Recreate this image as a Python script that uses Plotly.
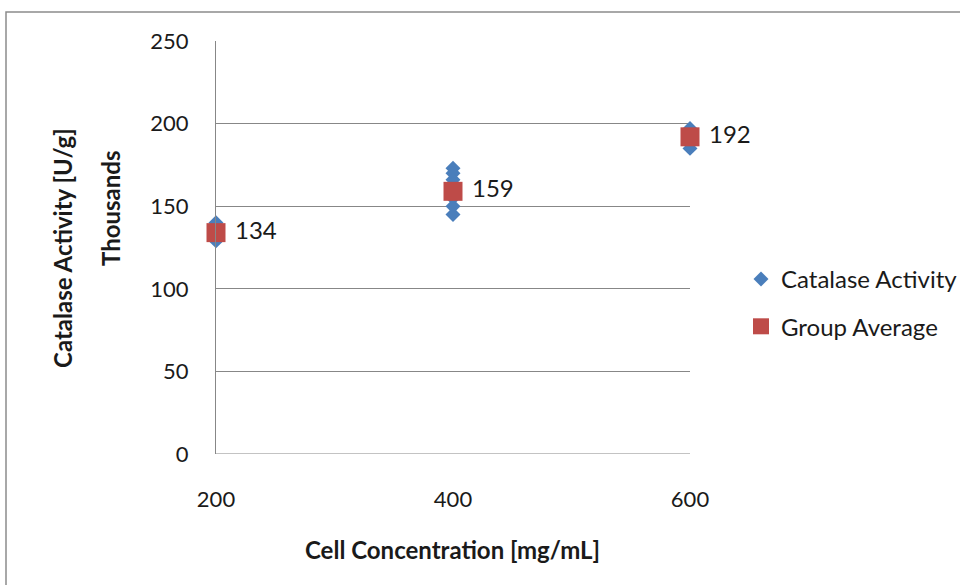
import plotly.graph_objects as go

# Individual catalase activity measurements (thousands of U/g)
conc_points = [200, 200, 400, 400, 400, 400, 400, 400, 600, 600]
activity_points = [140, 129, 173, 170, 166, 155, 150, 145, 197, 185]

# Group averages per cell concentration
conc_groups = [200, 400, 600]
group_avg = [134, 159, 192]

y_ticks = [0, 50, 100, 150, 200, 250]
x_ticks = [200, 400, 600]

FONT = "Lato"
GRID = "#878787"
TEXT = "#1a1a1a"

fig = go.Figure()

fig.add_trace(go.Scatter(
    x=conc_points, y=activity_points, mode="markers",
    name="Catalase Activity",
    marker=dict(symbol="diamond", size=11.5, color="#4a7ebb"),
    cliponaxis=False, legendgroup="a",
))

fig.add_trace(go.Scatter(
    x=conc_groups, y=group_avg, mode="markers+text",
    name="Group Average",
    marker=dict(symbol="square", size=19, color="#be4b48"),
    text=["\u00a0" + str(v) for v in group_avg],
    textposition="middle right",
    textfont=dict(family=FONT, size=24, color=TEXT),
    cliponaxis=False, legendgroup="b",
))

L, R, T, B = 216, 690, 41, 454
W, H = 960, 585
pw, ph = R - L, B - T

def px_x(p):
    return (p - L) / pw

def px_y(p):
    return (B - p) / ph

title_font = dict(family=FONT, size=24, color=TEXT)

fig.update_layout(
    width=W, height=H,
    margin=dict(l=L, r=W - R, t=T, b=H - B, pad=0, autoexpand=False),
    paper_bgcolor="white", plot_bgcolor="white",
    font=dict(family=FONT, size=20, color=TEXT),
    showlegend=True,
    legend=dict(
        x=px_x(741), y=px_y(257), xanchor="left", yanchor="top",
        font=dict(family=FONT, size=24, color=TEXT),
        tracegroupgap=13, traceorder="grouped",
        bgcolor="rgba(0,0,0,0)",
    ),
    xaxis=dict(
        range=[200, 600], tickvals=x_ticks, showgrid=False, zeroline=False,
        showline=False, ticks="", ticklabelstandoff=30,
        tickfont=dict(family=FONT, size=22),
    ),
    yaxis=dict(
        range=[0, 250], tickvals=y_ticks, showgrid=True, gridcolor=GRID,
        gridwidth=1, zeroline=False, showline=True, linecolor=GRID,
        linewidth=1, ticks="", ticklabelstandoff=22,
        tickfont=dict(family=FONT, size=22),
    ),
    annotations=[
        dict(text="<b>Catalase Activity [U/g]</b>", xref="paper", yref="paper",
             x=px_x(62), y=px_y(248), xanchor="center", yanchor="middle",
             textangle=-90, showarrow=False, font=title_font),
        dict(text="<b>Thousands</b>", xref="paper", yref="paper",
             x=px_x(110), y=px_y(209), xanchor="center", yanchor="middle",
             textangle=-90, showarrow=False, font=title_font),
        dict(text="<b>Cell Concentration [mg/mL]</b>", xref="paper", yref="paper",
             x=px_x(452), y=px_y(549), xanchor="center", yanchor="middle",
             showarrow=False, font=title_font),
    ],
    shapes=[
        # bottom grid line at zero
        dict(type="line", xref="paper", yref="y", x0=0, x1=1, y0=0, y1=0,
             line=dict(color=GRID, width=1)),
        # outer chart frame
        dict(type="rect", xref="paper", yref="paper",
             x0=px_x(6), x1=px_x(975), y0=px_y(600), y1=px_y(12),
             line=dict(color="#8c8c8c", width=1.5), layer="below"),
    ],
)

fig.write_html("out.html")
